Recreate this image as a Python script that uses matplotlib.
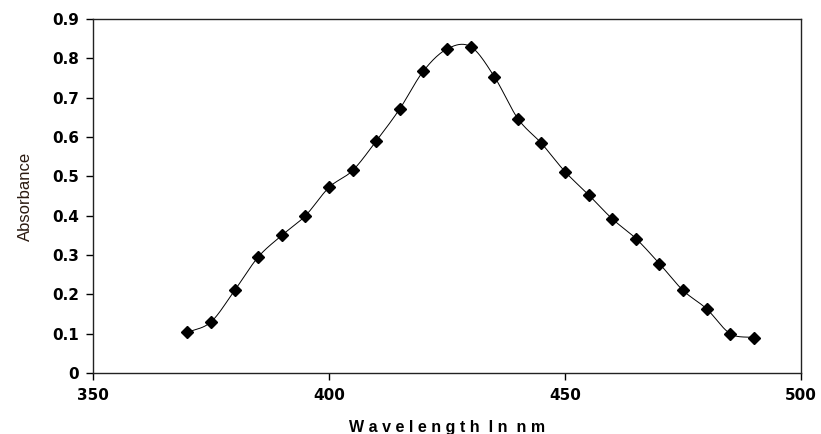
import matplotlib
matplotlib.use('Agg')
import matplotlib.pyplot as plt
import numpy as np

plt.rcParams['font.family'] = ['Liberation Sans', 'DejaVu Sans']

# absorbance spectrum
wavelength = [370, 375, 380, 385, 390, 395, 400, 405, 410, 415, 420, 425, 430,
              435, 440, 445, 450, 455, 460, 465, 470, 475, 480, 485, 490]
absorbance = [0.103, 0.130, 0.210, 0.295, 0.350, 0.400, 0.472, 0.515, 0.590, 0.672,
              0.768, 0.824, 0.830, 0.754, 0.647, 0.584, 0.512, 0.453, 0.392, 0.342,
              0.278, 0.210, 0.163, 0.100, 0.090]


def smooth_curve(x, y, n=20):
    """Catmull-Rom curve through the points (like Excel's smoothed line)."""
    x = np.asarray(x, float)
    y = np.asarray(y, float)
    px = np.concatenate([[2 * x[0] - x[1]], x, [2 * x[-1] - x[-2]]])
    py = np.concatenate([[2 * y[0] - y[1]], y, [2 * y[-1] - y[-2]]])
    t = np.linspace(0, 1, n, endpoint=False)
    xs, ys = [], []
    for i in range(1, len(px) - 2):
        for p, out in ((px, xs), (py, ys)):
            p0, p1, p2, p3 = p[i - 1], p[i], p[i + 1], p[i + 2]
            out.extend(0.5 * (2 * p1 + (-p0 + p2) * t + (2 * p0 - 5 * p1 + 4 * p2 - p3) * t ** 2
                              + (-p0 + 3 * p1 - 3 * p2 + p3) * t ** 3))
    xs.append(x[-1])
    ys.append(y[-1])
    return np.array(xs), np.array(ys)


fig = plt.figure(figsize=(8.21, 4.34), dpi=100)
ax = fig.add_axes([0.1133, 0.1406, 0.8624, 0.8154])

sx, sy = smooth_curve(wavelength, absorbance)
ax.plot(sx, sy, '-', color='black', linewidth=0.7)
ax.plot(wavelength, absorbance, 'D', color='black', markersize=6.5)

ax.set_xlim(350, 500)
ax.set_ylim(0, 0.9)
ax.set_xticks([350, 400, 450, 500])
ax.set_yticks(np.arange(0, 0.91, 0.1))
ax.set_yticklabels(['0', '0.1', '0.2', '0.3', '0.4', '0.5', '0.6', '0.7', '0.8', '0.9'])
ax.tick_params(direction='out', length=5, width=1, labelsize=11)
for lab in ax.get_xticklabels() + ax.get_yticklabels():
    lab.set_fontweight('bold')
    lab.set_family(['DejaVu Sans'])
ax.tick_params(axis='x', pad=6)
ax.tick_params(axis='y', pad=5)
for s in ax.spines.values():
    s.set_linewidth(1.0)
    s.set_color('#222222')

ax.set_xlabel('W a v e l e n g t h  I n  n m', fontsize=11.5, fontweight='bold', labelpad=12)
ax.set_ylabel('Absorbance', fontsize=12, color='#2a1a10', labelpad=14,
              family=['Liberation Sans Narrow', 'Liberation Sans'])

fig.savefig('out.png', dpi=100)
